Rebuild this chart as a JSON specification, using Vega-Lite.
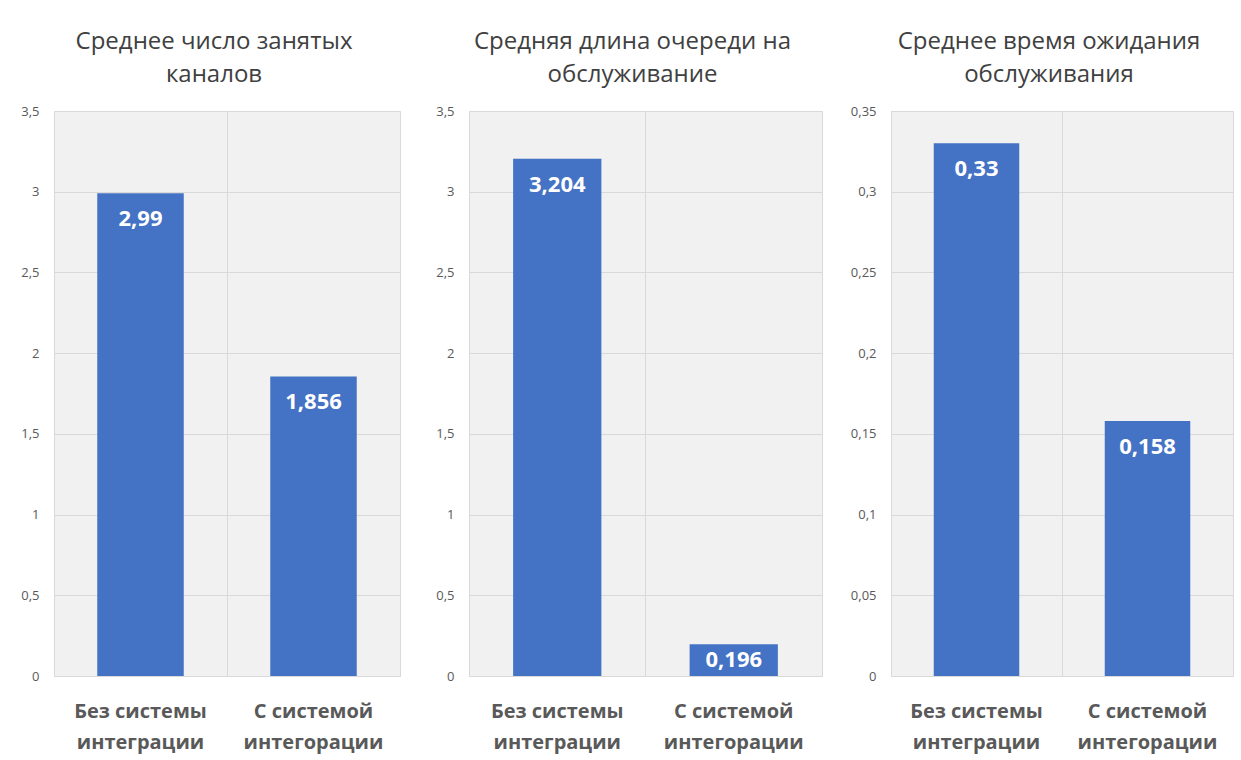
{
  "$schema": "https://vega.github.io/schema/vega-lite/v6.json",
  "background": "white",
  "padding": {"left": 20, "top": 29, "right": 8, "bottom": 5},
  "spacing": 69,
  "bounds": "flush",
  "config": {
    "locale": {"number": {"decimal": ",", "thousands": " ", "grouping": [3], "currency": ["", " ₽"]}},
    "font": "Open Sans",
    "view": {"fill": "#f1f1f1", "stroke": "#d9d9d9", "strokeWidth": 1},
    "title": {"fontSize": 24, "fontWeight": "normal", "color": "#404040", "lineHeight": 33, "offset": 18, "anchor": "middle", "dx": -13, "font": "Open Sans"},
    "axisY": {"domain": false, "ticks": false, "labelFontSize": 13, "labelColor": "#595959", "labelPadding": 15, "gridColor": "#d9d9d9", "title": null, "format": "~g"},
    "axisX": {"domain": false, "ticks": false, "labelFontSize": 20, "labelFontWeight": "bold", "labelColor": "#595959", "labelPadding": 25, "labelLineHeight": 31, "labelAngle": 0, "grid": true, "gridColor": "#d9d9d9", "bandPosition": 0, "title": null, "labelExpr": "split(datum.label, '|')"},
    "bar": {"color": "#4472C4"},
    "text": {"color": "white", "fontWeight": "bold", "fontSize": 22, "baseline": "middle"}
  },
  "hconcat": [
    {
      "width": 346, "height": 565,
      "title": {"text": ["Среднее число занятых", "каналов"]},
      "data": {"values": [
        {"group": "Без системы|интеграции", "value": 2.99},
        {"group": "С системой|интегорации", "value": 1.856}
      ]},
      "encoding": {
        "x": {"field": "group", "type": "nominal", "sort": null, "scale": {"paddingInner": 0, "paddingOuter": 0}},
        "y": {"field": "value", "type": "quantitative", "scale": {"domain": [0, 3.5], "nice": false}, "axis": {"values": [0, 0.5, 1, 1.5, 2, 2.5, 3, 3.5]}}
      },
      "layer": [
        {"mark": {"type": "bar", "width": {"band": 0.5}}},
        {"mark": {"type": "text", "dy": 26}, "encoding": {"text": {"field": "value", "type": "quantitative", "format": "~g"}}}
      ]
    },
    {
      "width": 353, "height": 565,
      "title": {"text": ["Средняя длина очереди на", "обслуживание"]},
      "data": {"values": [
        {"group": "Без системы|интеграции", "value": 3.204},
        {"group": "С системой|интегорации", "value": 0.196}
      ]},
      "encoding": {
        "x": {"field": "group", "type": "nominal", "sort": null, "scale": {"paddingInner": 0, "paddingOuter": 0}},
        "y": {"field": "value", "type": "quantitative", "scale": {"domain": [0, 3.5], "nice": false}, "axis": {"values": [0, 0.5, 1, 1.5, 2, 2.5, 3, 3.5]}}
      },
      "layer": [
        {"mark": {"type": "bar", "width": {"band": 0.5}}},
        {"transform": [{"filter": "datum.value > 1"}], "mark": {"type": "text", "dy": 26}, "encoding": {"text": {"field": "value", "type": "quantitative", "format": "~g"}}},
        {"transform": [{"filter": "datum.value <= 1"}], "mark": {"type": "text", "dy": 16}, "encoding": {"text": {"field": "value", "type": "quantitative", "format": "~g"}}}
      ]
    },
    {
      "width": 342, "height": 565,
      "title": {"text": ["Среднее время ожидания", "обслуживания"]},
      "data": {"values": [
        {"group": "Без системы|интеграции", "value": 0.33},
        {"group": "С системой|интегорации", "value": 0.158}
      ]},
      "encoding": {
        "x": {"field": "group", "type": "nominal", "sort": null, "scale": {"paddingInner": 0, "paddingOuter": 0}},
        "y": {"field": "value", "type": "quantitative", "scale": {"domain": [0, 0.35], "nice": false}, "axis": {"values": [0, 0.05, 0.1, 0.15, 0.2, 0.25, 0.3, 0.35]}}
      },
      "layer": [
        {"mark": {"type": "bar", "width": {"band": 0.5}}},
        {"mark": {"type": "text", "dy": 26}, "encoding": {"text": {"field": "value", "type": "quantitative", "format": "~g"}}}
      ]
    }
  ]
}
